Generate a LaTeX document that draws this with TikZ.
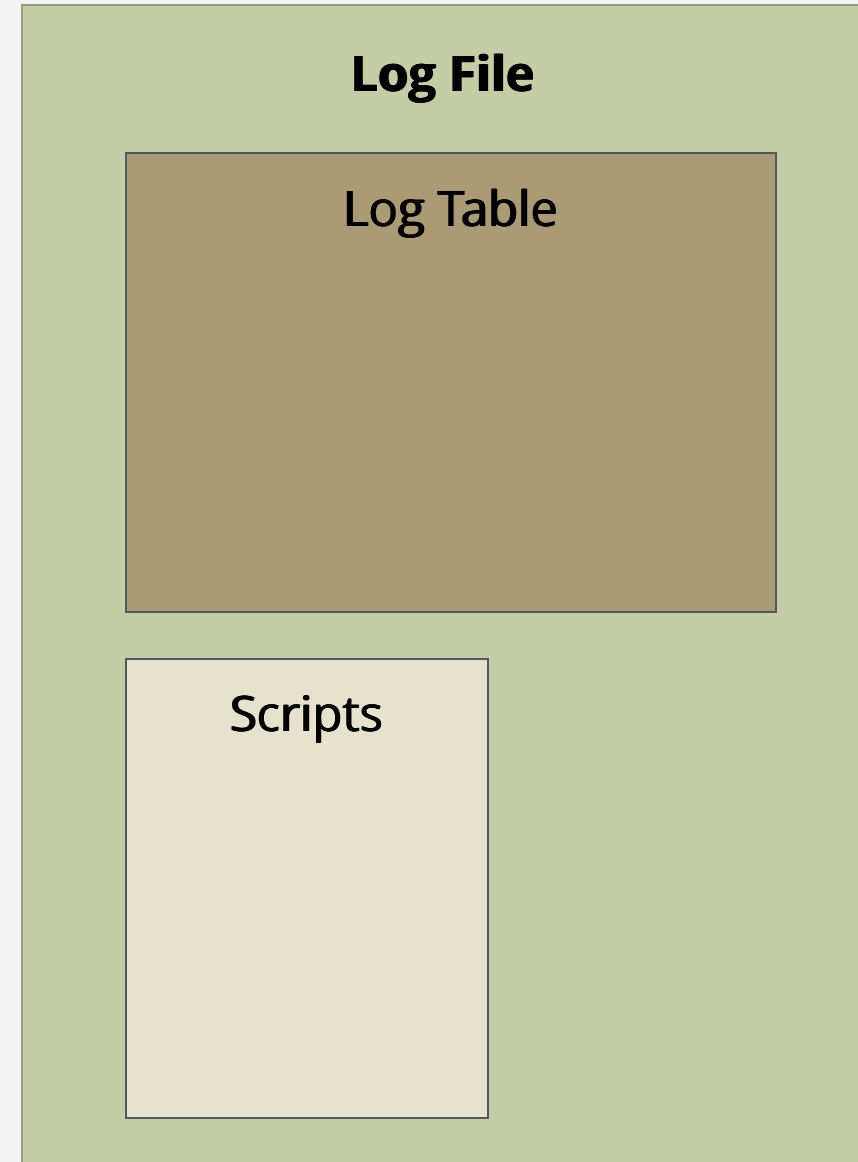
\documentclass[tikz,border=0pt]{standalone}
\usepackage{fontspec}
\setmainfont{Open Sans}
\usepackage{xcolor}
\usetikzlibrary{positioning}
\definecolor{pagegrey}{HTML}{F3F3F3}
\definecolor{filegreen}{HTML}{C5CDA6}
\definecolor{fileedge}{HTML}{939B78}
\definecolor{tablebrown}{HTML}{AB9A76}
\definecolor{scriptcream}{HTML}{E7E2CE}
\definecolor{boxedge}{HTML}{505A5E}
% heavier strokes: the text set three times, a little apart
\newcommand\heavytext[2]{\rlap{#2}\hspace{#1}\rlap{#2}\hspace{#1}#2}

\begin{document}
\begin{tikzpicture}[x=1pt, y=-1pt,
  part/.style={draw=boxedge, line width=1.8pt, anchor=north west, inner sep=0pt},
  title/.style={font=\fontsize{49}{55}\selectfont, inner sep=0pt}]
\fill[pagegrey] (0, 0) rectangle (858, 1162);
\useasboundingbox (0, 0) rectangle (858, 1162);
\node[part, draw=fileedge, fill=filegreen, minimum width=850pt, minimum height=1170pt] (file) at (21, 4) {};
\node[part, fill=tablebrown, minimum width=650pt, minimum height=459pt] (table) at (125, 152) {};
\node[part, fill=scriptcream, minimum width=362pt, minimum height=459pt] (scripts) at (125, 658) {};
\node[title, font=\fontsize{49}{55}\selectfont\bfseries] (filetitle) at (443, 79) {\heavytext{0.9pt}{Log File}};
\node[title, below=37pt of table.north] (tabletitle) {\heavytext{0.8pt}{Log Table}};
\node[title, below=37pt of scripts.north] (scriptstitle) {\heavytext{0.8pt}{Scripts}};
\end{tikzpicture}
\end{document}
